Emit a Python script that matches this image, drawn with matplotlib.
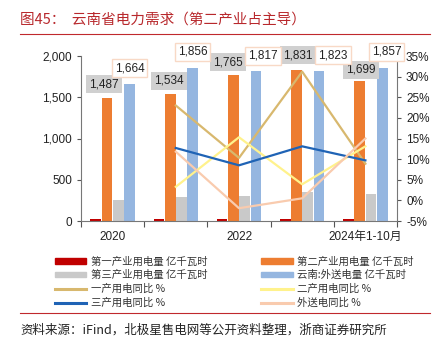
import matplotlib
matplotlib.use("Agg")
import matplotlib.pyplot as plt
from matplotlib.lines import Line2D
from matplotlib.patches import Patch
import numpy as np

plt.rcParams['font.family'] = ['Liberation Sans', 'Noto Sans CJK SC', 'DejaVu Sans']

# data
years = ["2020", "2021", "2022", "2023", "2024年1-10月"]
primary = [20, 22, 25, 30, 25]            # 第一产业用电量
secondary = [1487, 1534, 1765, 1831, 1699]  # 第二产业用电量
tertiary = [255, 287, 307, 355, 324]       # 第三产业用电量
export = [1664, 1856, 1817, 1823, 1857]    # 云南:外送电量

# yoy lines, from 2021 on
yoy_years = [1, 2, 3, 4]
yoy_primary = [23.0, 10.3, 31.2, 8.9]
yoy_secondary = [3.3, 15.3, 3.9, 13.1]
yoy_tertiary = [12.7, 8.5, 13.1, 9.7]
yoy_export = [11.8, -1.9, 0.5, 15.0]

# label nudges (points), like excel's auto-placement
sec_dx = [-2, -1, -4, 1, 1]
sec_dy = [10, 10, 9.5, 10.5, 8]
exp_dx = [0, 0, 5, 10, 3]
exp_dy = [11, 11.5, 11, 11, 11.5]

c_red = "#C00000"
c_orange = "#ED7D31"
c_gray = "#C9C9C9"
c_blue = "#95B6E0"
c_tan = "#D8B86E"
c_yellow = "#FFF28C"
c_dblue = "#1F63B5"
c_peach = "#F9CBAE"

fig = plt.figure(figsize=(4.4, 3.46), dpi=100)
ax = fig.add_axes([81 / 440, 125 / 346, 316 / 440, 165 / 346])
ax2 = ax.twinx()

x = np.arange(len(years))
w = 0.17
step = 0.178
ax.bar(x - 1.5 * step, primary, w, color=c_red, zorder=2)
ax.bar(x - 0.5 * step, secondary, w, color=c_orange, zorder=2)
ax.bar(x + 0.5 * step, tertiary, w, color=c_gray, zorder=2)
ax.bar(x + 1.5 * step, export, w, color=c_blue, zorder=2)

ax2.plot(yoy_years, np.array(yoy_primary) / 100, color=c_tan, lw=1.6)
ax2.plot(yoy_years, np.array(yoy_secondary) / 100, color=c_yellow, lw=1.6)
ax2.plot(yoy_years, np.array(yoy_tertiary) / 100, color=c_dblue, lw=1.6)
ax2.plot(yoy_years, np.array(yoy_export) / 100, color=c_peach, lw=1.6)

# labels go on top of everything
for i, v in enumerate(secondary):
    ax2.annotate(f"{v:,}", (x[i] - 0.5 * step, v / 2000), xycoords=ax.get_xaxis_transform(),
                 xytext=(sec_dx[i], sec_dy[i]), textcoords="offset points",
                 ha="center", va="center", fontsize=8.5, color="#222222", zorder=5,
                 bbox=dict(boxstyle="square,pad=0.25", fc="#D0D0D0", ec="none"))
for i, v in enumerate(export):
    ax2.annotate(f"{v:,}", (x[i] + 1.5 * step, v / 2000), xycoords=ax.get_xaxis_transform(),
                 xytext=(exp_dx[i], exp_dy[i]), textcoords="offset points",
                 ha="center", va="center", fontsize=8.5, color="#222222", zorder=6,
                 bbox=dict(boxstyle="square,pad=0.25", fc="white", ec="#F8D9C6"))

ax.set_xlim(-0.5, 4.5)
ax.set_ylim(0, 2000)
ax.set_yticks([0, 500, 1000, 1500, 2000])
ax.set_yticklabels(["0", "500", "1,000", "1,500", "2,000"])
ax2.set_ylim(-0.05, 0.35)
ax2.set_yticks(np.arange(-0.05, 0.351, 0.05))
ax2.set_yticklabels([f"{int(round(t * 100))}%" for t in np.arange(-0.05, 0.351, 0.05)])

ax.set_xticks(np.arange(-0.5, 5, 1))
ax.set_xticklabels([])
ax.set_xticks([0, 2, 4], minor=True)
ax.set_xticklabels([years[0], years[2], years[4]], minor=True)
ax.tick_params(axis="x", which="major", length=4, direction="out", color="#555555")
ax.tick_params(axis="x", which="minor", length=0, pad=7, labelsize=8.5, labelcolor="#222222")
ax.tick_params(axis="y", length=3, labelsize=8.5, labelcolor="#222222", color="#555555")
ax2.tick_params(axis="y", length=3, labelsize=8.5, labelcolor="#222222", color="#555555")

for a in (ax, ax2):
    a.spines["top"].set_visible(False)
    for s in a.spines.values():
        s.set_color("#777777")
        s.set_linewidth(0.8)
ax.spines["right"].set_visible(False)
ax2.spines["left"].set_visible(False)
ax2.spines["bottom"].set_visible(False)

cjk = ['Noto Sans CJK SC', 'DejaVu Sans']
handles = [
    Patch(color=c_red), Patch(color=c_gray),
    Line2D([], [], color=c_tan, lw=2.2), Line2D([], [], color=c_dblue, lw=2.2),
    Patch(color=c_orange), Patch(color=c_blue),
    Line2D([], [], color=c_yellow, lw=2.2), Line2D([], [], color=c_peach, lw=2.2),
]
labels = ["第一产业用电量 亿千瓦时", "第三产业用电量 亿千瓦时",
          "一产用电同比 %", "三产用电同比 %",
          "第二产业用电量 亿千瓦时", "云南:外送电量 亿千瓦时",
          "二产用电同比 %", "外送电同比 %"]
leg = fig.legend(handles, labels, ncol=2, loc="upper left", bbox_to_anchor=(50 / 440, 1 - 251 / 346),
                 frameon=False, prop={'family': cjk, 'size': 7.5}, handlelength=3.0, handleheight=0.45,
                 handletextpad=0.4, labelspacing=0.35, columnspacing=5.2, borderpad=0)
for t in leg.get_texts():
    t.set_color("#333333")

fig.text(20 / 440, 1 - 20 / 346, "图45：  云南省电力需求（第二产业占主导）", family=cjk,
         fontsize=10.5, color="#B8282C", va="center", ha="left")
fig.add_artist(Line2D([20 / 440, 430 / 440], [1 - 34 / 346] * 2, color="#C0282D", lw=0.8))
fig.add_artist(Line2D([20 / 440, 430 / 440], [1 - 313 / 346] * 2, color="#C0282D", lw=0.8))
fig.text(20 / 440, 1 - 330 / 346, "资料来源：iFind，北极星售电网等公开资料整理，浙商证券研究所", family=cjk,
         fontsize=9, color="#222222", va="center", ha="left")

fig.savefig("out.png", dpi=100)
